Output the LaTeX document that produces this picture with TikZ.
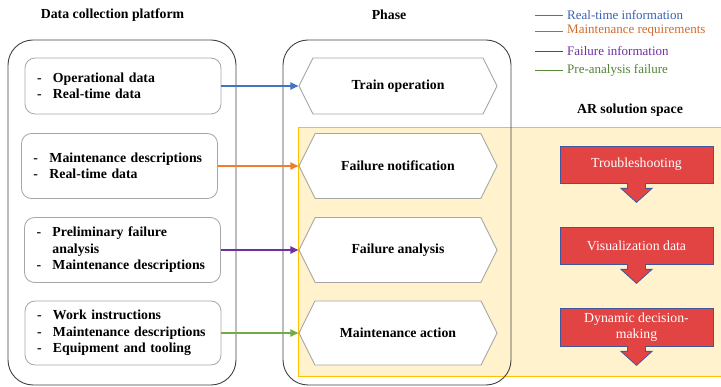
\documentclass[tikz,border=0pt]{standalone}
\usepackage{fontspec}
\setmainfont{Liberation Serif}
\usetikzlibrary{shapes.symbols,arrows.meta,calc}
\definecolor{cblue}{HTML}{4472C4}
\definecolor{corange}{HTML}{ED7D31}
\definecolor{corangetxt}{HTML}{D26A2A}
\definecolor{cpurple}{HTML}{7030A0}
\definecolor{cgreen}{HTML}{70AD47}
\definecolor{cgreentxt}{HTML}{548235}
\definecolor{cbluetxt}{HTML}{3A62AE}
\definecolor{yfill}{HTML}{FFF2CC}
\definecolor{ydraw}{HTML}{FFC000}
\definecolor{arred}{HTML}{E24444}
\definecolor{arborder}{HTML}{41569C}
\newcommand\fsz{\fontsize{13.8pt}{16.5pt}\selectfont}
\newcommand\lgsz{\fontsize{13pt}{15pt}\selectfont}
\newcommand\itm[1]{\makebox[16pt][l]{-}#1}
\begin{document}
\begin{tikzpicture}[x=1pt,y=-1pt,
  container/.style={draw=black!75, line width=0.9pt, rounded corners=25pt, minimum width=228pt, minimum height=345pt, inner sep=0pt},
  srcbox/.style={draw=black!35, line width=0.8pt, rounded corners=10pt, text width=172pt, inner xsep=12pt, inner ysep=0pt, align=left, font=\bfseries\fsz},
  phasebox/.style={signal, signal to=west and east, signal pointer angle=127, draw=black!35, fill=white, line width=0.9pt, minimum width=198pt, inner sep=0pt, font=\bfseries\fsz},
  arbox/.style={draw=arborder, fill=arred, line width=0.8pt, minimum width=153pt, text=white, font=\fsz, align=center, inner sep=0pt},
  downarr/.style={fill=arred},
  downarrline/.style={draw=arborder, line width=0.8pt, line join=miter},
  flow/.style={line width=1.8pt, -{Triangle[length=8pt,width=7pt]}},
  title/.style={font=\bfseries\fsz},
  legtext/.style={font=\lgsz, anchor=west, inner sep=0pt},
  legline/.style={line width=0.9pt}
]
\useasboundingbox (0,0) rectangle (721,387);

% titles
\node[title] (t1) at (112.5,15) {Data collection platform};
\node[title] (t2) at (389,15) {Phase};
\node[title] (t3) at (630,110) {AR solution space};

% legend
\node[legtext, text=cbluetxt] (lg1) at (567,15) {Real-time information};
\node[legtext, text=corangetxt] (lg2) at (567,31) {Maintenance requirements};
\node[legtext, text=cpurple] (lg3) at (567,51) {Failure information};
\node[legtext, text=cgreentxt] (lg4) at (567,70) {Pre-analysis failure};
\draw[legline, cblue] ($(lg1.west)+(-32,0)$) -- ($(lg1.west)+(-4,0)$);
\draw[legline, corange!80!black] ($(lg2.west)+(-32,0)$) -- ($(lg2.west)+(-4,0)$);
\draw[legline, cpurple] ($(lg3.west)+(-32,0)$) -- ($(lg3.west)+(-4,0)$);
\draw[legline, cgreen!80!black] ($(lg4.west)+(-32,0)$) -- ($(lg4.west)+(-4,0)$);

% yellow AR region
\fill[yfill] (298,128) rectangle (730,377);
\draw[ydraw, line width=1pt] (730,128) -- (298,128) -- (298,377) -- (730,377);

% containers
\node[container] (dcp) at (122,212.5) {};
\node[container] (phs) at (397,212.5) {};

% source boxes
\node[srcbox, minimum height=56pt] (b1) at (123,86) {\itm{Operational data}\\\itm{Real-time data}};
\node[srcbox, minimum height=65pt] (b2) at (119.5,166) {\itm{Maintenance descriptions}\\\itm{Real-time data}};
\node[srcbox, minimum height=65pt] (b3) at (122.5,250) {\itm{Preliminary failure}\\\makebox[16pt]{}analysis\\\itm{Maintenance descriptions}};
\node[srcbox, minimum height=64pt] (b4) at (123,333) {\itm{Work instructions}\\\itm{Maintenance descriptions}\\\itm{Equipment and tooling}};

% phases
\node[phasebox, minimum height=56pt] (p1) at (398,86) {Train operation};
\node[phasebox, minimum height=65pt] (p2) at (398,166) {Failure notification};
\node[phasebox, minimum height=65pt] (p3) at (398,250) {Failure analysis};
\node[phasebox, minimum height=64pt] (p4) at (398,333) {Maintenance action};

% flows
\draw[flow, cblue] (b1.east) -- (p1.west);
\draw[flow, corange] (b2.east) -- (p2.west);
\draw[flow, cpurple] (b3.east) -- (p3.west);
\draw[flow, cgreen] (b4.east) -- (p4.west);

% AR boxes
\node[arbox, minimum height=37pt] (r1) at (636.5,164.5) {Troubleshooting};
\node[arbox, minimum height=37pt] (r2) at (636.5,245.5) {Visualization data};
\node[arbox, minimum height=38pt] (r3) at (636.5,327) {Dynamic decision-\\making};

% down arrows
\foreach \r in {r1,r2,r3}{
  \fill[downarr] ($(\r.south)+(-9,-1.5)$) -- ($(\r.south)+(-9,5)$) -- ($(\r.south)+(-15.5,5)$) -- ($(\r.south)+(0,19)$) -- ($(\r.south)+(15.5,5)$) -- ($(\r.south)+(9,5)$) -- ($(\r.south)+(9,-1.5)$) -- cycle;
  \draw[downarrline] ($(\r.south)+(-9,0)$) -- ($(\r.south)+(-9,5)$) -- ($(\r.south)+(-15.5,5)$) -- ($(\r.south)+(0,19)$) -- ($(\r.south)+(15.5,5)$) -- ($(\r.south)+(9,5)$) -- ($(\r.south)+(9,0)$);
}
\end{tikzpicture}
\end{document}
